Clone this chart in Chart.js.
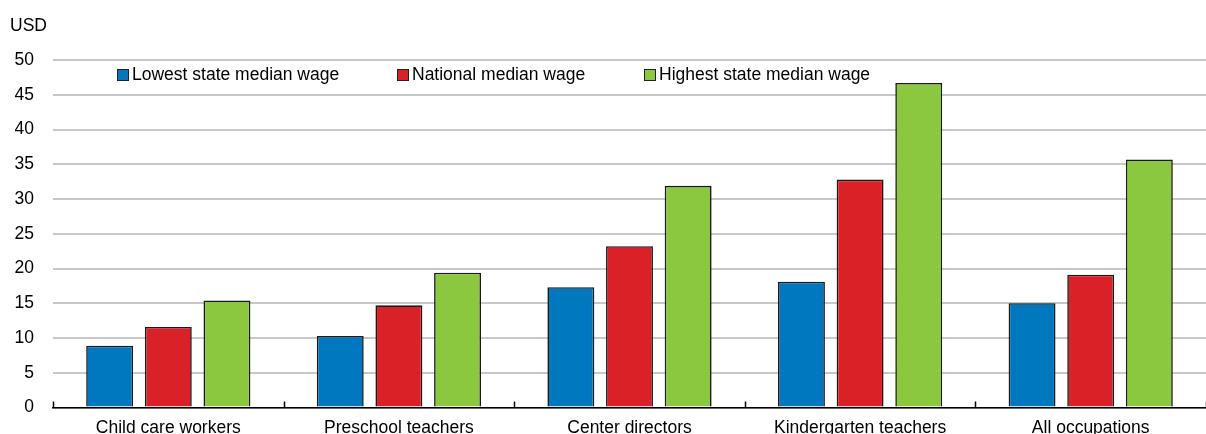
<!DOCTYPE html>
<html>
<head>
<meta charset="utf-8">
<script src="https://cdn.jsdelivr.net/npm/chart.js@4"></script>
<style>
  body { margin: 0; background: #fff; }
  #wrap { position: relative; width: 1206px; height: 434px; overflow: hidden; }
  #unit { position: absolute; left: 10px; top: 15px; font: 17.5px "Liberation Sans", Arial, sans-serif; color: #000; }
  .leg { position: absolute; top: 64px; font: 17.5px "Liberation Sans", Arial, sans-serif; color: #000; white-space: nowrap; }
  .leg i { display: inline-block; width: 10px; height: 10px; border: 1px solid #222; margin-right: 3px; vertical-align: -1px; }
</style>
</head>
<body>
<div id="wrap">
  <canvas id="chart" width="1206" height="434"></canvas>
  <div id="unit">USD</div>
  <div id="legend"></div>
</div>
<script>
const categories = ["Child care workers", "Preschool teachers", "Center directors", "Kindergarten teachers", "All occupations"];
const seriesNames = ["Lowest state median wage", "National median wage", "Highest state median wage"];
const lowest = [8.9, 10.3, 17.3, 18.1, 15.0];
const national = [11.6, 14.7, 23.2, 32.8, 19.1];
const highest = [15.4, 19.4, 31.9, 46.7, 35.7];
const colors = ["#0078BF", "#DA2128", "#8CC83F"];
const legendX = [117, 397, 644];

// legend sits inside the plot, drawn as html
let leg = "";
seriesNames.forEach((n, i) => {
    leg += `<div class="leg" style="left:${legendX[i]}px"><i style="background:${colors[i]}"></i>${n}</div>`;
});
document.getElementById("legend").innerHTML = leg;

// small upward ticks at category boundaries on the baseline
const boundaryTicks = {
    id: "boundaryTicks",
    afterDatasetsDraw(chart) {
        let x = chart.scales.x, y = chart.scales.y;
        let ctx = chart.ctx;
        let step = x.width / categories.length;
        ctx.save();
        ctx.strokeStyle = "#000";
        ctx.lineWidth = 1.5;
        for (let i = 0; i <= categories.length; i++) {
            let px = Math.round(x.left + i * step) + 0.5;
            ctx.beginPath();
            ctx.moveTo(px, y.bottom);
            ctx.lineTo(px, y.bottom - 6);
            ctx.stroke();
        }
        ctx.restore();
    }
};

const font = { family: "'Liberation Sans', Arial, sans-serif", size: 17.5 };

new Chart(document.getElementById("chart"), {
    type: "bar",
    data: {
        labels: categories,
        datasets: [lowest, national, highest].map((d, i) => ({
            label: seriesNames[i],
            data: d,
            backgroundColor: colors[i],
            borderColor: "#1a1a1a",
            borderWidth: 1.6,
            categoryPercentage: 0.763,
            barPercentage: 0.8
        }))
    },
    options: {
        responsive: false,
        animation: false,
        layout: { padding: { top: 60, left: 0, right: 0, bottom: 0 } },
        plugins: { legend: { display: false }, tooltip: { enabled: false } },
        scales: {
            x: {
                afterFit: s => { s.height = 26.5; },
                grid: { display: false, drawTicks: false },
                border: { display: true, color: "#000", width: 1.5 },
                ticks: { color: "#000", font: font, padding: 10, maxRotation: 0 }
            },
            y: {
                min: 0,
                max: 50,
                afterFit: s => { s.width = 53; s.paddingBottom = 0; },
                ticks: { stepSize: 5, color: "#000", font: font, padding: 19 },
                grid: { color: "#c8c8c8", lineWidth: 2, drawTicks: false },
                border: { display: false }
            }
        }
    },
    plugins: [boundaryTicks]
});
</script>
</body>
</html>
